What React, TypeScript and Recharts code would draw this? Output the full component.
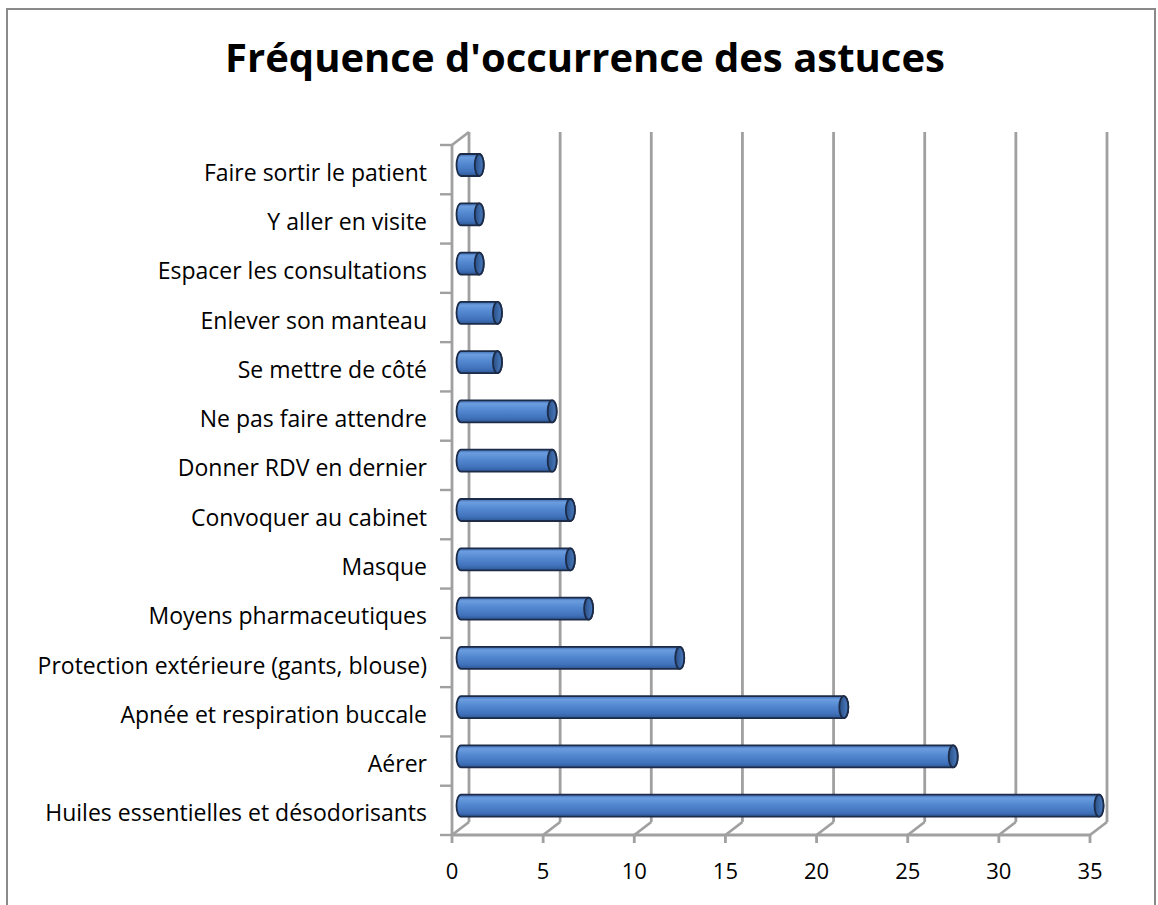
import React from 'react';
import { BarChart, Bar, XAxis, YAxis, CartesianGrid } from 'recharts';

const categories = [
  'Faire sortir le patient',
  'Y aller en visite',
  'Espacer les consultations',
  'Enlever son manteau',
  'Se mettre de côté',
  'Ne pas faire attendre',
  'Donner RDV en dernier',
  'Convoquer au cabinet',
  'Masque',
  'Moyens pharmaceutiques',
  'Protection extérieure (gants, blouse)',
  'Apnée et respiration buccale',
  'Aérer',
  'Huiles essentielles et désodorisants',
];
const occurrences = [1, 1, 1, 2, 2, 5, 5, 6, 6, 7, 12, 21, 27, 35];
const xTicks = [0, 5, 10, 15, 20, 25, 30, 35];
const title = "Fréquence d'occurrence des astuces";

const data = categories.map((name, i) => ({ name, value: occurrences[i] }));

const W = 1158;
const H = 905;
const M_TOP = 140;
const M_BOTTOM = 35;
const X_AXIS_H = 40;
const Y_AXIS_W = 461;
const M_RIGHT = 59;
const PLOT_H = H - M_TOP - M_BOTTOM - X_AXIS_H;
const BAND = PLOT_H / categories.length;

const FRONT_DX = -9;
const FRONT_DY = 5;
const BACK_DX = 8;
const BACK_DY = -8;
const GRID = '#a0a0a0';
const FONT = '"Open Sans", Lato, sans-serif';

const renderVertical = (p: any) => {
  const x = p.x1;
  const y1 = p.y1;
  const y2 = p.y2;
  const bx = x + BACK_DX;
  const fx = x + FRONT_DX;
  const items: any[] = [
    <line key="b" x1={bx} y1={y1 + BACK_DY} x2={bx} y2={y2 + BACK_DY} />,
    <line key="s" x1={bx} y1={y2 + BACK_DY} x2={fx} y2={y2 + FRONT_DY} />,
    <line key="t" x1={fx} y1={y2 + FRONT_DY} x2={fx} y2={y2 + FRONT_DY + 8} />,
  ];
  if (p.index === 0) {
    const right = (p.x != null && p.width != null ? p.x + p.width : x) + FRONT_DX;
    items.push(
      <line key="fl" x1={fx} y1={y1 + FRONT_DY} x2={fx} y2={y2 + FRONT_DY} />,
      <line key="ts" x1={fx} y1={y1 + FRONT_DY} x2={bx} y2={y1 + BACK_DY} />,
      <line key="fl2" x1={fx} y1={y2 + FRONT_DY} x2={right} y2={y2 + FRONT_DY} />,
    );
  }
  return (
    <g key={p.key} stroke={GRID} strokeWidth={2.8} fill="none">
      {items}
    </g>
  );
};

const XTick = (props: any) => {
  const { x, payload } = props;
  const y0 = M_TOP + PLOT_H;
  return (
    <text
      x={x + FRONT_DX}
      y={y0 + 40}
      textAnchor="middle"
      dominantBaseline="central"
      fontFamily={FONT}
      fontSize={22}
      fill="#000"
    >
      {payload.value}
    </text>
  );
};

const YTick = (props: any) => {
  const { y, payload, index } = props;
  const ax = Y_AXIS_W + FRONT_DX;
  const top = y - BAND / 2 + FRONT_DY;
  const bottom = y + BAND / 2 + FRONT_DY;
  return (
    <g>
      <line x1={ax - 12} y1={top} x2={ax} y2={top} stroke={GRID} strokeWidth={2.4} />
      {index === categories.length - 1 ? (
        <line x1={ax - 12} y1={bottom} x2={ax} y2={bottom} stroke={GRID} strokeWidth={2.4} />
      ) : null}
      <text
        x={427}
        y={y + 7}
        textAnchor="end"
        dominantBaseline="central"
        fontFamily={FONT}
        fontSize={23}
        fill="#000"
      >
        {payload.value}
      </text>
    </g>
  );
};

const Cylinder = (props: any) => {
  const { x, y, width, height } = props;
  if (width == null || height == null) return null;
  const rx = 4.5;
  const ry = height / 2;
  const xe = x + width;
  const d = `M ${x} ${y} L ${xe} ${y} A ${rx} ${ry} 0 0 1 ${xe} ${y + height} L ${x} ${
    y + height
  } A ${rx} ${ry} 0 0 1 ${x} ${y} Z`;
  return (
    <g>
      <path d={d} fill="url(#cylBody)" stroke="#1c2b47" strokeWidth={1.8} />
      <ellipse
        cx={xe}
        cy={y + ry}
        rx={rx}
        ry={ry}
        fill="url(#cylCap)"
        stroke="#1c2b47"
        strokeWidth={1.8}
      />
    </g>
  );
};

export default function App() {
  return (
    <div style={{ position: 'absolute', left: 0, top: 0, width: W, height: H, background: '#fff' }}>
      <div
        style={{
          position: 'absolute',
          left: 6,
          top: 8,
          width: 1150,
          height: 920,
          border: '2px solid #8a8a8a',
          boxSizing: 'border-box',
        }}
      />
      <div
        style={{
          position: 'absolute',
          left: 6,
          top: 32,
          width: W,
          textAlign: 'center',
          fontFamily: FONT,
          fontWeight: 700,
          fontSize: 40,
          lineHeight: '50px',
          color: '#000',
        }}
      >
        {title}
      </div>
      <div style={{ position: 'absolute', left: 0, top: 0 }}>
        <BarChart
          width={W}
          height={H}
          data={data}
          layout="vertical"
          margin={{ top: M_TOP, right: M_RIGHT, bottom: M_BOTTOM, left: 0 }}
          barCategoryGap={0}
        >
          <defs>
            <linearGradient id="cylBody" x1="0" y1="0" x2="0" y2="1">
              <stop offset="0" stopColor="#3d6cb2" />
              <stop offset="0.15" stopColor="#6b9ddf" />
              <stop offset="0.45" stopColor="#5388d0" />
              <stop offset="0.8" stopColor="#4072bb" />
              <stop offset="1" stopColor="#2d5794" />
            </linearGradient>
            <linearGradient id="cylCap" x1="0" y1="0" x2="1" y2="0">
              <stop offset="0" stopColor="#2a4f86" />
              <stop offset="1" stopColor="#4a7cc0" />
            </linearGradient>
          </defs>
          <CartesianGrid horizontal={false} vertical={renderVertical} />
          <XAxis
            type="number"
            domain={[0, 35]}
            ticks={xTicks}
            interval={0}
            axisLine={false}
            tickLine={false}
            height={X_AXIS_H}
            tick={<XTick />}
          />
          <YAxis
            type="category"
            dataKey="name"
            width={Y_AXIS_W}
            axisLine={false}
            tickLine={false}
            interval={0}
            tick={<YTick />}
          />
          <Bar dataKey="value" barSize={22} shape={<Cylinder />} isAnimationActive={false} />
        </BarChart>
      </div>
    </div>
  );
}
